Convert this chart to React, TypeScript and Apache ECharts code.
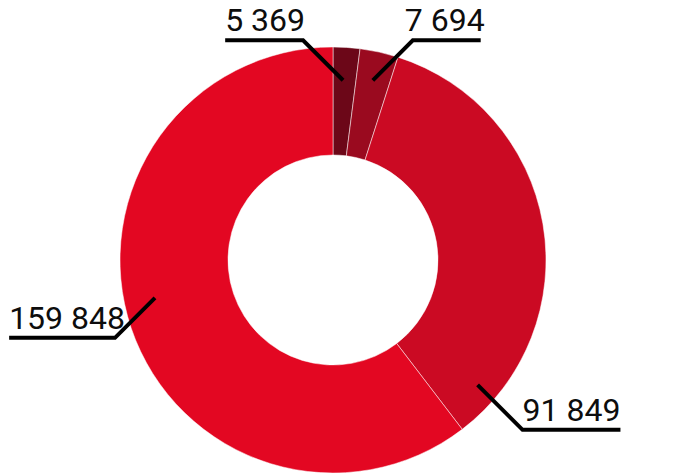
import React, { useEffect, useRef } from 'react';
import * as echarts from 'echarts';

// ---- data ----
const categories = ['A', 'B', 'C', 'D'];
const values = [5369, 7694, 91849, 159848];
const valueLabels = ['5 369', '7 694', '91 849', '159 848'];

// ---- styling / layout config ----
const colors = ['#6c0718', '#9a0a1f', '#cb0a23', '#e30722'];
const CX = 333;
const CY = 260;
const R_IN = 105;
const R_OUT = 213;
// label anchor (angle clockwise from top, radius), leader direction, diagonal length,
// shortening of the horizontal segment and horizontal text shift
const anchors = [
  { deg: 3.2, r: 180, sx: -1, sy: -1, d: 40, trim: 2, shift: 0 },
  { deg: 12.5, r: 184, sx: 1, sy: -1, d: 40, trim: 12, shift: -8 },
  { deg: 130.8, r: 191, sx: 1, sy: 1, d: 45, trim: 0, shift: 0 },
  { deg: 258, r: 182, sx: -1, sy: 1, d: 40, trim: 10, shift: 2 },
];

export default function App() {
  const ref = useRef<HTMLDivElement>(null);
  useEffect(() => {
    document.body.style.margin = '0';
    if (!ref.current) return;
    const chart = echarts.init(ref.current, undefined, { renderer: 'svg' });
    const data = categories.map((c, i) => ({
      name: c,
      value: values[i],
      itemStyle: { color: colors[i] },
    }));
    chart.setOption({
      animation: false,
      series: [
        {
          type: 'pie',
          z: 2,
          center: [CX, CY],
          radius: [R_IN, R_OUT],
          startAngle: 90,
          clockwise: true,
          silent: true,
          itemStyle: { borderColor: '#ffffff', borderWidth: 0.5 },
          data,
          label: { show: false },
          labelLine: { show: false },
        },
        {
          type: 'pie',
          z: 5,
          center: [CX, CY],
          radius: [R_IN, R_OUT],
          startAngle: 90,
          clockwise: true,
          avoidLabelOverlap: false,
          silent: true,
          itemStyle: { color: 'rgba(0,0,0,0)', borderWidth: 0 },
          data: categories.map((c, i) => ({ name: c, value: values[i] })),
          label: {
            show: true,
            formatter: (p: any) => valueLabels[p.dataIndex],
            fontFamily: 'Roboto',
            fontSize: 32,
            color: '#0d0d0d',
          },
          labelLine: {
            show: true,
            length: 20,
            length2: 40,
            lineStyle: { color: '#000000', width: 4, cap: 'butt', join: 'miter' },
          },
          labelLayout: (params: any) => {
            const a = anchors[params.dataIndex];
            const t = (a.deg * Math.PI) / 180;
            const x0 = CX + a.r * Math.sin(t);
            const y0 = CY - a.r * Math.cos(t);
            const x1 = x0 + a.sx * a.d;
            const y1 = y0 + a.sy * a.d;
            const w = params.labelRect.width;
            const x2 = x1 + a.sx * (w - a.trim);
            const textLeft = a.sx > 0 ? x1 + a.shift : x1 - w + a.trim;
            return {
              x: textLeft,
              y: y1 - 20,
              align: 'left',
              verticalAlign: 'middle',
              labelLinePoints: [
                [x0, y0],
                [x1, y1],
                [x2, y1],
              ],
            };
          },
        },
      ],
    });
    return () => chart.dispose();
  }, []);
  return <div ref={ref} style={{ width: 677, height: 473 }} />;
}
